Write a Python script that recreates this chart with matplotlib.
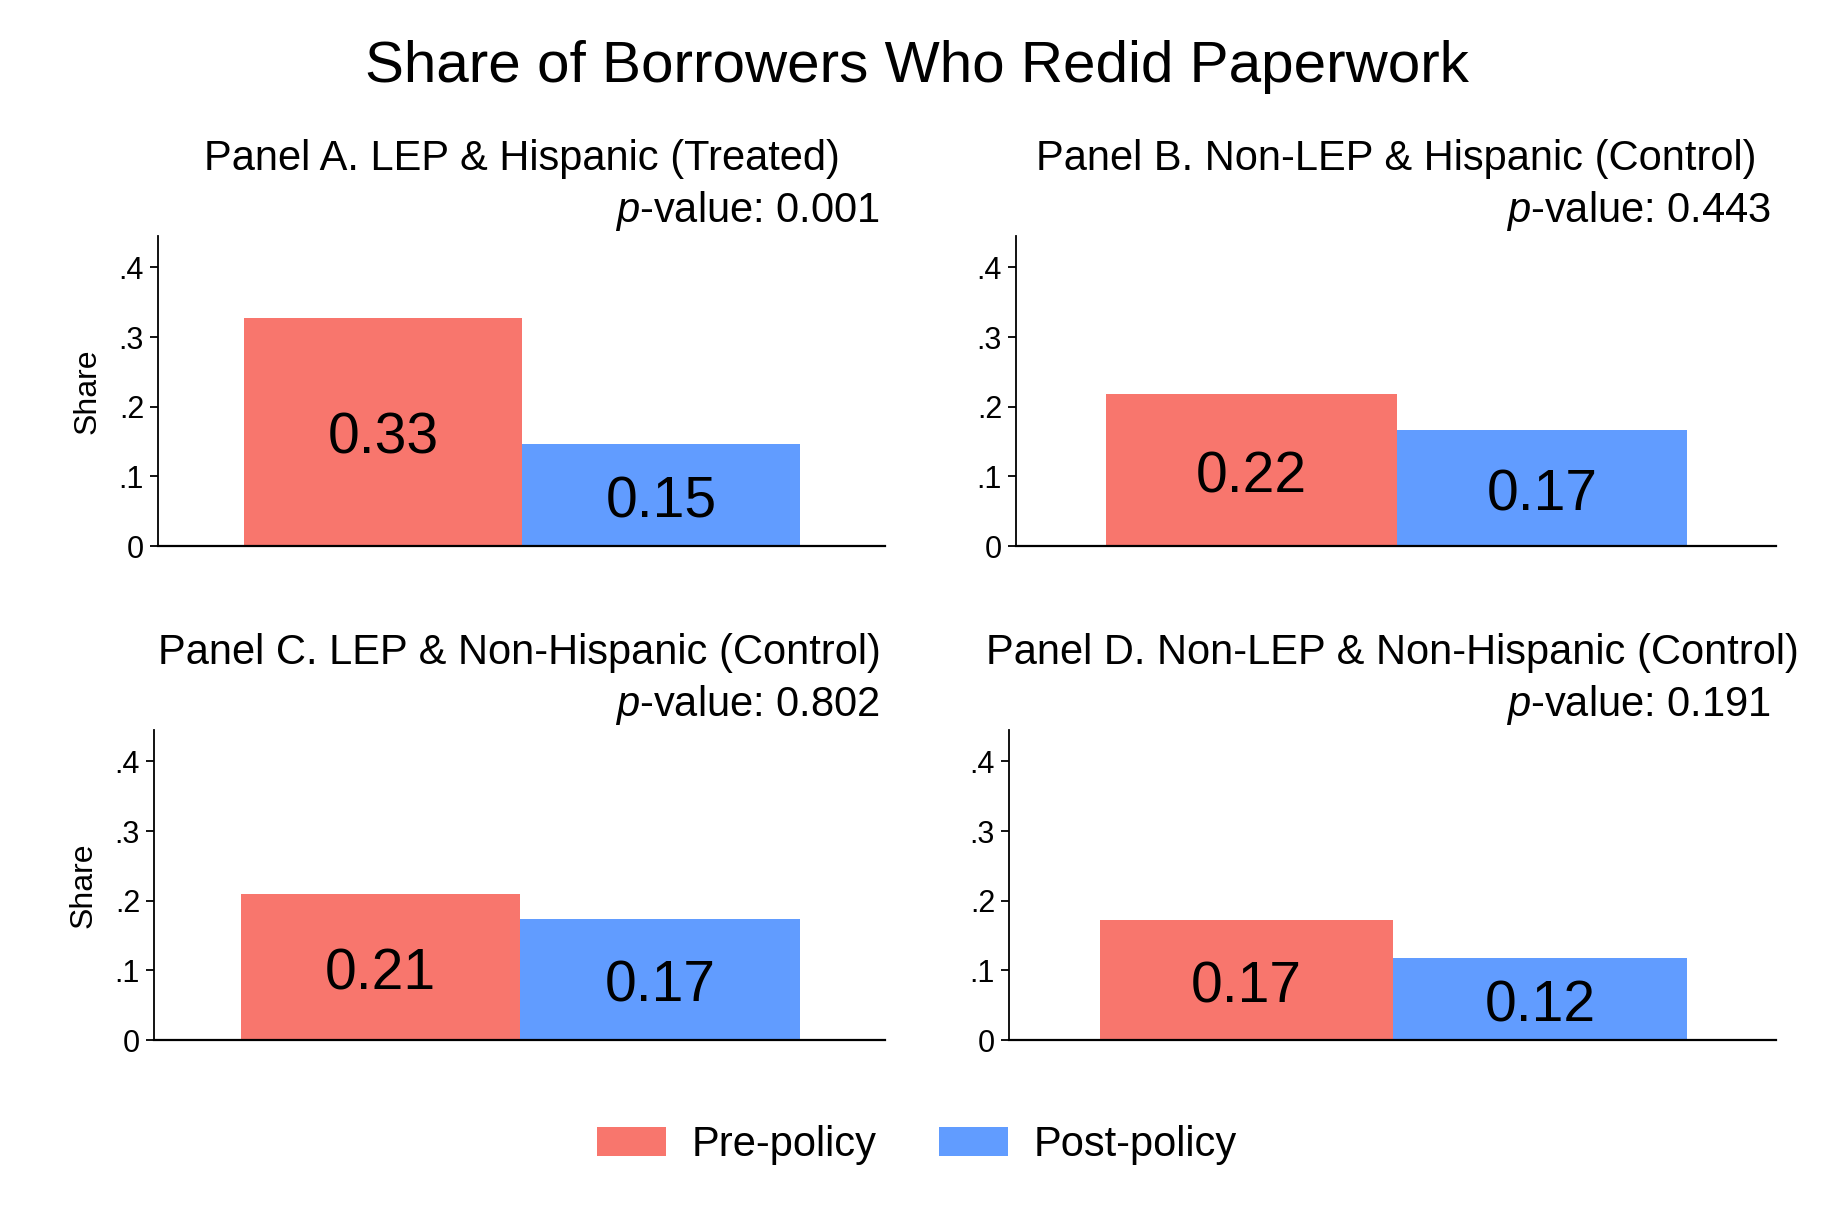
import numpy as np
import matplotlib
matplotlib.use("Agg")
import matplotlib.pyplot as plt
from matplotlib.patches import Patch

plt.rcParams['font.family'] = ['Liberation Sans', 'DejaVu Sans']
plt.rcParams['mathtext.fontset'] = 'custom'
plt.rcParams['mathtext.rm'] = 'Liberation Sans'
plt.rcParams['mathtext.it'] = 'Liberation Sans:italic'

# data
panel_titles = ["Panel A. LEP & Hispanic (Treated)",
                "Panel B. Non-LEP & Hispanic (Control)",
                "Panel C. LEP & Non-Hispanic (Control)",
                "Panel D. Non-LEP & Non-Hispanic (Control)"]
p_values = ["0.001", "0.443", "0.802", "0.191"]
pre_share = [0.328, 0.218, 0.209, 0.172]
post_share = [0.146, 0.166, 0.174, 0.117]
groups = ["Pre-policy", "Post-policy"]
colors = ["#F8766D", "#619CFF"]
yticks = [0, 0.1, 0.2, 0.3, 0.4]
ytick_labels = ["0", ".1", ".2", ".3", ".4"]

W, H = 1834, 1223
fig = plt.figure(figsize=(W / 100, H / 100), dpi=100)

# axes boxes in pixels: left, right, top, bottom
boxes = [(158, 885, 236, 546), (1016, 1776, 236, 546),
         (154, 885, 730, 1040), (1009, 1776, 730, 1040)]

for i, (l, r, t, b) in enumerate(boxes):
    ax = fig.add_axes([l / W, 1 - b / H, (r - l) / W, (b - t) / H])
    vals = [pre_share[i], post_share[i]]
    ax.bar([0, 1], vals, width=1.0, color=colors, edgecolor='none')
    for x, v in zip([0, 1], vals):
        ax.annotate(f"{v:.2f}", (x, v / 2), xytext=(0, -5), textcoords='offset points',
                    ha='center', va='center', fontsize=41)
    ax.set_xlim(-0.81, 1.805)
    ax.set_ylim(0, 0.445)
    ax.set_yticks(yticks)
    ax.set_yticklabels(ytick_labels, fontsize=22)
    ax.set_xticks([])
    ax.spines['top'].set_visible(False)
    ax.spines['right'].set_visible(False)
    ax.spines['left'].set_linewidth(1.3)
    ax.spines['bottom'].set_linewidth(1.6)
    ax.tick_params(axis='y', length=6, width=1.3, pad=4)
    if i % 2 == 0:
        ax.set_ylabel("Share", fontsize=23, labelpad=12)
    ax.text(0.5, 1 + 77 / (b - t), panel_titles[i], transform=ax.transAxes,
            ha='center', va='center', fontsize=30)
    ax.text((r - 5 - l) / (r - l), 1 + 25 / (b - t),
            r"$\it{p}$-value: " + p_values[i], transform=ax.transAxes,
            ha='right', va='center', fontsize=30)

fig.text(0.5, 1 - 67 / H, "Share of Borrowers Who Redid Paperwork",
         ha='center', va='center', fontsize=42)

handles = [Patch(facecolor=c, edgecolor='none', label=g) for c, g in zip(colors, groups)]
fig.legend(handles=handles, loc='center', bbox_to_anchor=(0.5, 1 - 1145 / H),
           ncol=2, frameon=False, fontsize=30, handlelength=1.65, handleheight=0.72,
           handletextpad=0.62, columnspacing=1.5)

fig.savefig("out.png", dpi=100)
